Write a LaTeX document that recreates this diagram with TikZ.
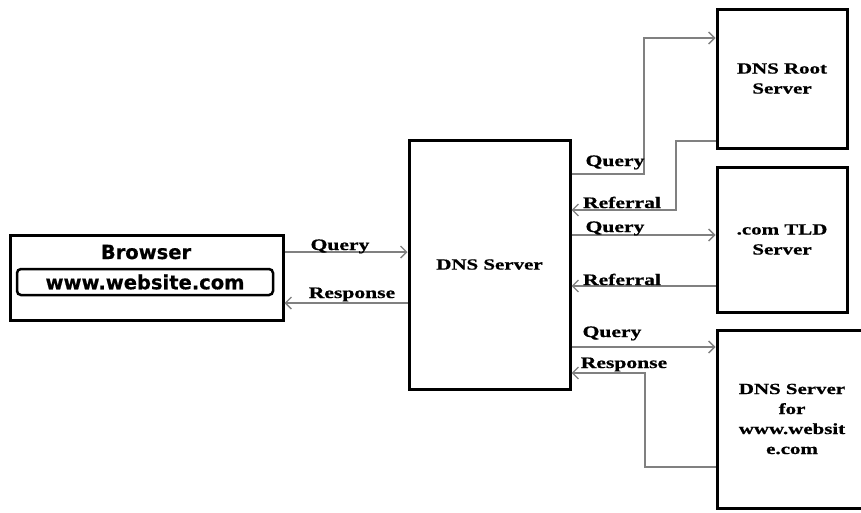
\documentclass[tikz,border=0pt]{standalone}
\usepackage{fontspec}
\usetikzlibrary{arrows.meta}
\newfontfamily\lblfont[FakeStretch=1.35,BoldFeatures={FakeBold=0.8}]{Liberation Serif}
\newfontfamily\brfont[BoldFeatures={FakeBold=0.5}]{DejaVu Sans}
\definecolor{arrgray}{RGB}{128,128,128}
\begin{document}
\begin{tikzpicture}[x=1pt,y=-1pt,
  box/.style={draw=black,line width=3pt,inner sep=0pt,align=center,
    font=\lblfont\bfseries\fontsize{15.5}{20}\selectfont},
  arr/.style={draw=arrgray,line width=1.3pt,-{Straight Barb[length=6pt,width=12pt]}},
  lbl/.style={font=\lblfont\bfseries\fontsize{16}{19}\selectfont,anchor=base,inner sep=0pt},
  brtext/.style={font=\brfont\bfseries\fontsize{19.5}{22}\selectfont,inner sep=0pt}]
\useasboundingbox (0,0) rectangle (861,512);
\fill[white] (0,0) rectangle (861,512);

% Browser
\node[box,minimum width=273pt,minimum height=85pt] (browser) at (146.5,277.5) {};
\node[brtext,anchor=base] (btitle) at (146,259) {Browser};
\node[brtext,draw=black,line width=2.5pt,rounded corners=4pt,minimum width=256pt,minimum height=26pt] (url) at (145,282) {www.website.com};

% Servers
\node[box,minimum width=161pt,minimum height=249pt] (dns) at (489.5,264.5) {DNS Server};
\node[box,minimum width=130pt,minimum height=139pt] (root) at (782,78.5) {DNS Root\\Server};
\node[box,minimum width=130pt,minimum height=145pt] (tld) at (782,239.5) {.com TLD\\Server};
\node[box,minimum width=150pt,minimum height=178pt] (auth) at (792,419) {DNS Server\\for\\www.websit\\e.com};

% junctions
\coordinate (j1) at (644,38);
\coordinate (j2) at (676,141);
\coordinate (j3) at (645,467);

% connectors
\draw[arr] (browser.east |- 0,252) -- (dns.west |- 0,252);
\draw[arr] (dns.west |- 0,303) -- (browser.east |- 0,303);
\draw[arr] (dns.east |- 0,174) -| (j1) -- (root.west |- j1);
\draw[arr] (root.west |- j2) -- (j2) |- (dns.east |- 0,210);
\draw[arr] (dns.east |- 0,235) -- (tld.west |- 0,235);
\draw[arr] (tld.west |- 0,286) -- (dns.east |- 0,286);
\draw[arr] (dns.east |- 0,347) -- (auth.west |- 0,347);
\draw[arr] (auth.west |- j3) -- (j3) |- (dns.east |- 0,373);

% labels
\node[lbl] (lq1) at (340,250) {Query};
\node[lbl] (lr1) at (352,298) {Response};
\node[lbl] (lq2) at (615,166) {Query};
\node[lbl] (lf2) at (622,208) {Referral};
\node[lbl] (lq3) at (615,232) {Query};
\node[lbl] (lf3) at (622,285) {Referral};
\node[lbl] (lq4) at (612,337) {Query};
\node[lbl] (lr4) at (624,368) {Response};
\end{tikzpicture}
\end{document}
